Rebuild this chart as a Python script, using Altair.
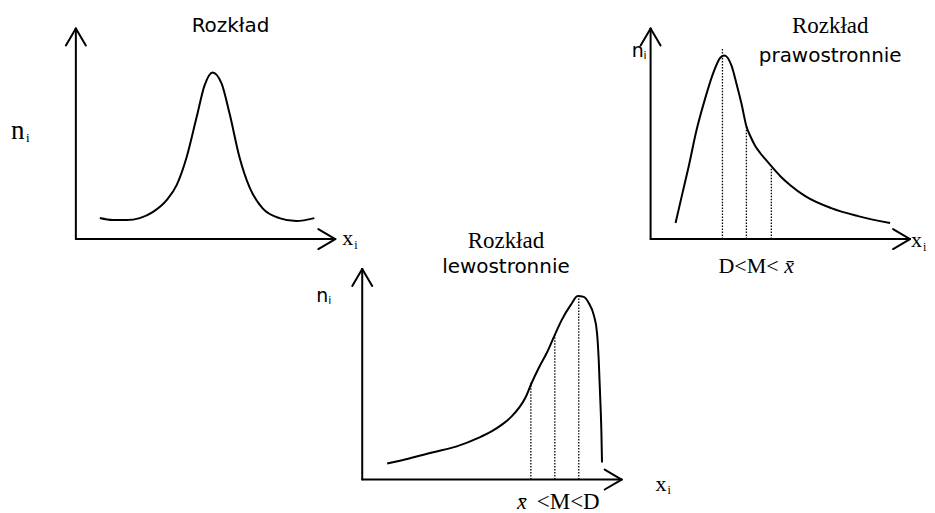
import altair as alt
import pandas as pd

# ---------------- data ----------------
# Each curve: distance along the x-axis from the origin, and height above the x-axis
sym_dx = [24, 37, 51, 64, 77, 91, 101, 111, 121, 129, 137, 146, 154, 164, 174, 187, 204, 221, 239]
sym_h = [21, 19, 19, 21, 27, 39, 54, 82, 122, 154, 167, 156, 126, 82, 52, 31, 21, 18, 21]

right_dx = [25, 31, 38, 46, 55, 63, 70, 74, 81, 86, 91, 96, 100, 105, 110, 115, 121, 130, 140, 155, 181, 208, 240]
right_h = [16, 42, 72, 109, 142, 167, 182, 184, 174, 156, 136, 113, 103, 93, 86, 80, 73, 63, 54, 43, 31, 23, 16]
right_marks_dx = [72, 96, 121]      # D, M, mean
right_marks_h = [192, 114, 72]

left_dx = [25, 47, 70, 94, 117, 130, 140, 150, 158, 164, 169, 177, 185, 193, 200, 209, 216, 222, 227, 232,
           235.3, 237, 238.3, 239.7, 240.3]
left_h = [16, 21, 27, 33, 42, 48.5, 55, 63.5, 73, 83, 95, 112, 127, 145, 160, 175, 184, 183, 177, 165,
          147, 120, 87, 47, 17]
left_marks_dx = [169, 193, 217]     # mean, M, D
left_marks_h = [97, 145, 184]

panel_names = ["sym", "right", "left"]
curves = {"sym": (sym_dx, sym_h), "right": (right_dx, right_h), "left": (left_dx, left_h)}
marks = {"sym": ([], []), "right": (right_marks_dx, right_marks_h), "left": (left_marks_dx, left_marks_h)}

# ---------------- layout (page pixels) ----------------
origins = {"sym": (76, 239), "right": (652, 239), "left": (363, 480)}
AXIS_W, AXIS_H = 260, 211
HEAD_L, HEAD_W = 17, 10

curve_rows, rule_rows, dot_rows = [], [], []
for p in panel_names:
    ox, oy = origins[p]
    dxs, hs = curves[p]
    for i, (dx, h) in enumerate(zip(dxs, hs)):
        curve_rows.append({"panel": p, "i": i, "px": ox + dx, "py": oy - h})
    tx, ty = ox, oy - AXIS_H
    rx, ry = ox + AXIS_W, oy
    segs = [
        (ox, oy, tx, ty), (ox, oy, rx, ry),
        (tx, ty, tx - HEAD_W, ty + HEAD_L), (tx, ty, tx + HEAD_W, ty + HEAD_L),
        (rx, ry, rx - HEAD_L, ry - HEAD_W), (rx, ry, rx - HEAD_L, ry + HEAD_W),
    ]
    for a, b, c, d in segs:
        rule_rows.append({"px": a, "py": b, "px2": c, "py2": d})
    mdx, mh = marks[p]
    for dx, h in zip(mdx, mh):
        dot_rows.append({"px": ox + dx, "py": oy, "px2": ox + dx, "py2": oy - h})

curve_df = pd.DataFrame(curve_rows)
rule_df = pd.DataFrame(rule_rows)
dot_df = pd.DataFrame(dot_rows)

SANS = "DejaVu Sans"
SERIF = "Liberation Serif"

# label, x, y(baseline), font, size, style, align
labels = [
    ("Rozkład", 231, 31, SANS, 20, "normal", "center"),
    ("n", 11, 139, SERIF, 27, "normal", "left"),
    ("i", 26, 142, SERIF, 13, "normal", "left"),
    ("x", 343, 245, SERIF, 22, "normal", "left"),
    ("i", 355, 249, SERIF, 12, "normal", "left"),
    ("Rozkład", 832, 33, SERIF, 23, "normal", "center"),
    ("prawostronnie", 832, 62, SANS, 20, "normal", "center"),
    ("n", 633, 57, SANS, 19, "normal", "left"),
    ("i", 645, 59, SANS, 11, "normal", "left"),
    ("x", 913, 247, SERIF, 22, "normal", "left"),
    ("i", 925, 251, SERIF, 12, "normal", "left"),
    ("D<M<", 720, 273, SERIF, 22, "normal", "left"),
    ("x\u0304", 786, 273, SERIF, 22, "italic", "left"),
    ("Rozkład", 507, 248, SERIF, 23, "normal", "center"),
    ("lewostronnie", 507, 273, SANS, 20, "normal", "center"),
    ("n", 317, 302, SANS, 19, "normal", "left"),
    ("i", 329, 304, SANS, 11, "normal", "left"),
    ("x", 657, 491, SERIF, 22, "normal", "left"),
    ("i", 669, 495, SERIF, 12, "normal", "left"),
    ("x\u0304", 518, 510, SERIF, 22, "italic", "left"),
    ("<M<D", 538, 510, SERIF, 23, "normal", "left"),
]

X = alt.X("px:Q", scale=alt.Scale(domain=[8, 927], nice=False, zero=False), axis=None)
Y = alt.Y("py:Q", scale=alt.Scale(domain=[8, 505], nice=False, zero=False, reverse=True), axis=None)

axes = alt.Chart(rule_df).mark_rule(color="black", strokeWidth=2, strokeCap="round").encode(
    x=X, y=Y, x2="px2:Q", y2="py2:Q")

dots = alt.Chart(dot_df).mark_rule(color="black", strokeWidth=1.3, strokeDash=[1.5, 1.5]).encode(
    x=X, y=Y, x2="px2:Q", y2="py2:Q")

lines = alt.Chart(curve_df).mark_line(color="black", strokeWidth=2, interpolate="monotone").encode(
    x=X, y=Y, detail="panel:N", order="i:Q")

layers = [axes, dots, lines]
groups = {}
for lab, x, y, font, size, style, align in labels:
    groups.setdefault((font, size, style, align), []).append({"label": lab, "px": x, "py": y})
for (font, size, style, align), rows in groups.items():
    layers.append(
        alt.Chart(pd.DataFrame(rows)).mark_text(
            font=font, fontSize=size, fontStyle=style, align=align,
            baseline="alphabetic", color="black"
        ).encode(x=X, y=Y, text="label:N")
    )

chart = alt.layer(*layers).properties(width=919, height=497, padding=0).configure_view(stroke=None)

chart.save("out.html", embed_options={"renderer": "svg", "actions": False})
